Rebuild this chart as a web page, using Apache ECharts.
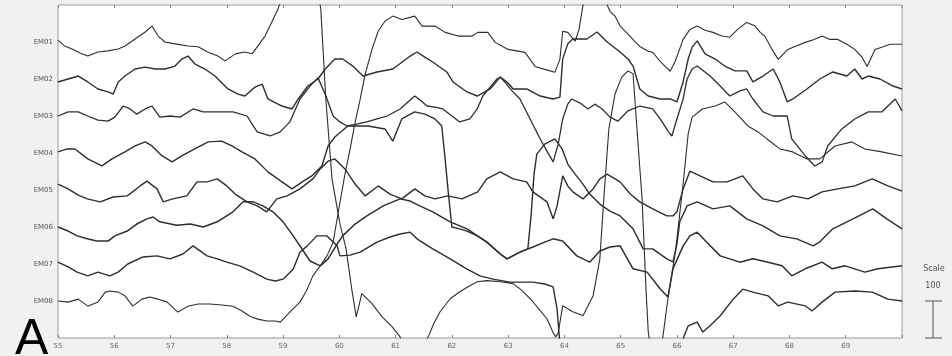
<!DOCTYPE html>
<html>
<head>
<meta charset="utf-8">
<script src="https://cdn.jsdelivr.net/npm/echarts@6/dist/echarts.min.js"></script>
<style>
html,body{margin:0;padding:0;background:#f0f1f3;}
#chart{width:952px;height:356px;}
</style>
</head>
<body>
<div id="chart"></div>
<script>
// channel names, top to bottom; spacing between channels = 100 (uV)
var channels = ['EM01', 'EM02', 'EM03', 'EM04', 'EM05', 'EM06', 'EM07', 'EM08'];
var timeTicks = [55, 56, 57, 58, 59, 60, 61, 62, 63, 64, 65, 66, 67, 68, 69];
var scaleValue = 100;

// [time (s), deflection (uV) from the channel baseline]
var em01 = [[55.00,5],[55.12,-11],[55.25,-19],[55.39,-30],[55.53,-38],[55.71,-27],[55.89,-24],[56.07,-19],[56.19,-11],[56.37,8],[56.55,27],[56.67,43],[56.78,16],[56.90,0],[57.08,-5],[57.31,-11],[57.49,-13],[57.66,-27],[57.84,-38],[57.97,-51],[58.15,-32],[58.32,-27],[58.45,-32],[58.55,-11],[58.68,16],[58.80,54],[58.91,89],[59.02,138],[59.12,224],[59.48,224],[59.62,138],[59.67,89],[59.76,-154],[59.87,-370],[60.01,-491],[60.12,-559],[60.22,-667],[60.30,-743],[60.40,-680],[60.58,-707],[60.76,-743],[60.94,-770],[61.08,-797],[61.18,-834],[61.43,-834],[61.58,-797],[61.68,-761],[61.79,-729],[61.97,-694],[62.14,-675],[62.32,-659],[62.45,-648],[62.62,-645],[62.86,-648],[63.09,-653],[63.25,-672],[63.44,-702],[63.57,-726],[63.69,-748],[63.80,-786],[63.85,-797],[63.89,-786],[63.97,-713],[64.15,-729],[64.33,-740],[64.51,-686],[64.63,-586],[64.70,-424],[64.79,-235],[64.90,-140],[65.02,-95],[65.13,-78],[65.22,-86],[65.29,-235],[65.38,-424],[65.45,-667],[65.49,-783],[65.54,-834],[65.70,-834],[65.75,-797],[65.84,-694],[65.98,-559],[66.11,-383],[66.20,-248],[66.27,-203],[66.45,-181],[66.68,-173],[66.85,-162],[67.03,-189],[67.26,-227],[67.44,-243],[67.60,-262],[67.83,-289],[68.06,-297],[68.31,-316],[68.54,-316],[68.81,-281],[69.11,-270],[69.34,-289],[69.64,-297],[70.00,-308]];

var em02 = [[55.00,-8],[55.18,0],[55.36,8],[55.53,-8],[55.71,-27],[55.89,-35],[55.98,-41],[56.07,-8],[56.19,8],[56.37,27],[56.55,32],[56.72,27],[56.90,27],[57.08,35],[57.20,54],[57.31,62],[57.43,41],[57.61,27],[57.79,8],[58.02,-27],[58.20,-41],[58.32,-46],[58.50,-22],[58.63,-14],[58.73,-54],[58.98,-73],[59.16,-81],[59.27,-54],[59.44,-19],[59.62,0],[59.75,27],[59.92,54],[60.06,54],[60.24,35],[60.42,8],[60.67,19],[60.95,27],[61.26,62],[61.38,73],[61.52,59],[61.66,46],[61.91,19],[62.02,-8],[62.27,-35],[62.45,-46],[62.68,-27],[62.86,5],[62.98,-8],[63.09,-27],[63.33,-27],[63.57,-46],[63.80,-54],[63.92,-49],[63.97,54],[64.06,95],[64.15,108],[64.40,108],[64.58,127],[64.76,100],[64.99,73],[65.13,54],[65.22,35],[65.34,-27],[65.49,-46],[65.70,-54],[65.88,-54],[66.00,-62],[66.11,-8],[66.20,54],[66.27,86],[66.36,103],[66.50,68],[66.68,54],[66.85,35],[67.03,22],[67.24,22],[67.35,-8],[67.53,8],[67.71,27],[67.83,-8],[67.96,-62],[68.06,-54],[68.31,-27],[68.54,0],[68.77,19],[69.02,8],[69.16,27],[69.29,0],[69.40,8],[69.61,0],[69.84,-19],[70.00,-27]];

var em03 = [[55.00,0],[55.18,11],[55.36,11],[55.53,0],[55.71,-11],[55.89,-14],[56.01,-3],[56.16,27],[56.28,19],[56.40,5],[56.55,19],[56.67,27],[56.81,-3],[56.99,0],[57.17,-3],[57.40,19],[57.58,11],[57.75,11],[57.93,11],[58.11,11],[58.36,0],[58.45,-22],[58.54,-43],[58.77,-54],[58.95,-43],[59.12,-16],[59.30,46],[59.48,81],[59.62,103],[59.75,59],[59.89,0],[60.01,-16],[60.14,-27],[60.31,-22],[60.49,-16],[60.67,-8],[60.85,0],[61.08,19],[61.22,38],[61.34,54],[61.45,41],[61.56,27],[61.70,24],[61.84,19],[62.00,0],[62.14,-16],[62.32,-8],[62.45,19],[62.55,54],[62.68,78],[62.80,100],[62.86,105],[62.94,92],[63.07,68],[63.21,46],[63.39,-8],[63.57,-62],[63.69,-95],[63.80,-124],[63.89,-76],[63.97,-8],[64.06,32],[64.13,46],[64.28,35],[64.42,19],[64.54,32],[64.67,19],[64.81,-3],[64.95,-14],[65.13,14],[65.34,27],[65.57,19],[65.73,-14],[65.84,-41],[65.91,-54],[66.00,-8],[66.11,46],[66.18,100],[66.27,127],[66.36,135],[66.59,108],[66.82,73],[66.94,54],[67.12,68],[67.24,73],[67.35,46],[67.53,11],[67.71,0],[67.96,0],[68.04,-62],[68.28,-108],[68.45,-135],[68.58,-124],[68.68,-81],[68.93,-35],[69.16,-8],[69.40,11],[69.64,11],[69.88,46],[70.00,14]];

var em04 = [[55.00,3],[55.16,11],[55.30,11],[55.53,-16],[55.78,-35],[55.96,-16],[56.19,3],[56.37,19],[56.55,30],[56.67,19],[56.85,-8],[57.03,-24],[57.20,-8],[57.43,11],[57.67,30],[57.91,32],[58.09,19],[58.27,3],[58.50,-16],[58.73,-51],[58.98,-78],[59.16,-97],[59.34,-78],[59.51,-62],[59.69,-35],[59.80,19],[59.92,43],[60.15,73],[60.28,73],[60.51,73],[60.81,65],[60.95,32],[61.11,92],[61.34,111],[61.52,105],[61.70,92],[61.82,73],[61.88,-16],[61.93,-97],[62.00,-200],[62.14,-205],[62.27,-211],[62.45,-224],[62.62,-240],[62.86,-273],[62.98,-286],[63.12,-275],[63.25,-265],[63.35,-259],[63.41,-165],[63.46,-57],[63.51,-3],[63.65,24],[63.83,38],[63.96,11],[64.06,-30],[64.19,-57],[64.33,-84],[64.45,-111],[64.63,-138],[64.81,-157],[64.99,-170],[65.22,-205],[65.40,-259],[65.57,-259],[65.82,-286],[65.93,-294],[66.00,-246],[66.05,-186],[66.18,-143],[66.36,-132],[66.64,-151],[66.94,-143],[67.24,-178],[67.53,-197],[67.83,-224],[68.13,-232],[68.42,-251],[68.54,-240],[68.77,-205],[69.13,-178],[69.48,-151],[69.73,-178],[70.00,-205]];

var em05 = [[55.00,16],[55.18,3],[55.36,-14],[55.52,-24],[55.75,-32],[55.98,-19],[56.23,-16],[56.46,11],[56.58,24],[56.76,3],[56.87,-32],[57.04,-24],[57.29,-16],[57.47,22],[57.65,22],[57.83,30],[58.00,11],[58.15,-11],[58.36,-32],[58.54,-43],[58.71,-59],[58.89,-24],[59.07,-16],[59.30,3],[59.53,30],[59.66,57],[59.80,78],[59.92,84],[60.10,57],[60.28,16],[60.46,-16],[60.69,11],[60.90,-11],[61.11,-24],[61.34,3],[61.52,-16],[61.70,-24],[61.93,-16],[62.18,-24],[62.46,-5],[62.62,30],[62.86,49],[63.09,30],[63.33,22],[63.44,-5],[63.69,-32],[63.80,-78],[63.87,-43],[63.97,38],[64.06,11],[64.15,-5],[64.33,-24],[64.51,3],[64.63,30],[64.76,43],[64.99,22],[65.17,-11],[65.34,-32],[65.57,-51],[65.82,-70],[65.93,-70],[66.00,-59],[66.11,3],[66.23,51],[66.41,38],[66.64,22],[66.89,22],[67.17,38],[67.35,3],[67.53,-24],[67.78,-32],[68.06,-16],[68.33,-24],[68.58,-5],[68.86,3],[69.16,11],[69.47,30],[69.75,11],[70.00,-3]];

var em06 = [[55.00,0],[55.18,-11],[55.34,-24],[55.52,-32],[55.69,-38],[55.89,-38],[56.01,-24],[56.23,-11],[56.40,8],[56.58,22],[56.69,27],[56.81,14],[57.11,5],[57.35,8],[57.58,0],[57.83,14],[58.11,41],[58.29,68],[58.47,68],[58.64,57],[58.82,41],[59.00,14],[59.18,-24],[59.30,-51],[59.48,-92],[59.66,-105],[59.80,-86],[59.96,-46],[60.06,-24],[60.28,8],[60.49,30],[60.78,57],[61.08,76],[61.26,70],[61.43,57],[61.66,41],[61.97,14],[62.27,-5],[62.62,-41],[62.86,-73],[62.98,-86],[63.21,-68],[63.44,-54],[63.65,-41],[63.80,-32],[63.97,-38],[64.22,-78],[64.45,-95],[64.63,-65],[64.81,-54],[64.99,-51],[65.22,-113],[65.47,-122],[65.70,-167],[65.84,-189],[65.93,-113],[66.11,-51],[66.23,-24],[66.36,-14],[66.53,-41],[66.77,-78],[67.12,-95],[67.35,-86],[67.62,-95],[67.87,-105],[68.04,-132],[68.28,-113],[68.58,-95],[68.76,-113],[68.99,-105],[69.34,-122],[69.57,-113],[70.00,-105]];

var em07 = [[55.00,5],[55.18,-8],[55.34,-22],[55.53,-32],[55.71,-22],[55.92,-32],[56.07,-22],[56.24,0],[56.51,19],[56.76,22],[56.99,14],[57.22,27],[57.40,49],[57.65,22],[57.83,14],[58.00,5],[58.23,-5],[58.47,-22],[58.71,-41],[58.86,-46],[59.00,-41],[59.18,-14],[59.30,32],[59.43,49],[59.60,76],[59.78,76],[59.96,49],[60.01,22],[60.19,24],[60.37,32],[60.67,59],[60.90,73],[61.08,81],[61.26,86],[61.38,68],[61.66,41],[61.97,14],[62.27,-14],[62.50,-32],[62.73,-41],[63.03,-49],[63.25,-49],[63.44,-49],[63.65,-54],[63.80,-62],[63.87,-122],[63.92,-216],[64.10,-257],[66.05,-257],[66.12,-197],[66.20,-167],[66.36,-157],[66.46,-184],[66.59,-167],[66.77,-140],[67.00,-95],[67.17,-68],[67.35,-76],[67.62,-86],[67.80,-113],[67.97,-103],[68.28,-113],[68.40,-127],[68.58,-103],[68.81,-76],[69.16,-73],[69.47,-76],[69.75,-95],[70.00,-100]];

var em08 = [[55.00,0],[55.18,-3],[55.36,5],[55.53,-14],[55.71,-3],[55.84,24],[55.92,27],[56.07,24],[56.19,14],[56.33,-14],[56.49,5],[56.63,11],[56.78,5],[56.94,-3],[57.13,-30],[57.31,-14],[57.49,-8],[57.70,-8],[57.91,-11],[58.11,-14],[58.27,-27],[58.41,-41],[58.55,-49],[58.71,-54],[58.86,-54],[58.95,-57],[59.12,-30],[59.30,-3],[59.43,32],[59.53,68],[59.66,95],[59.78,122],[59.89,159],[59.99,248],[60.10,343],[60.19,410],[60.28,483],[60.37,545],[60.46,613],[60.58,680],[60.69,729],[60.81,756],[60.95,770],[61.11,761],[61.34,770],[61.47,743],[61.70,743],[61.88,726],[62.11,716],[62.36,716],[62.46,726],[62.64,726],[62.77,699],[63.00,680],[63.30,672],[63.48,634],[63.65,626],[63.83,618],[63.92,653],[63.97,729],[64.06,726],[64.19,702],[64.26,734],[64.33,799],[64.38,896],[64.69,896],[64.74,807],[64.81,783],[64.90,770],[64.99,743],[65.13,721],[65.25,702],[65.34,688],[65.49,675],[65.57,672],[65.70,648],[65.79,634],[65.88,621],[65.97,648],[66.11,707],[66.23,734],[66.36,743],[66.50,732],[66.64,726],[66.80,716],[66.94,713],[67.08,734],[67.24,753],[67.39,743],[67.48,726],[67.56,716],[67.69,680],[67.80,653],[67.97,680],[68.10,688],[68.28,699],[68.44,707],[68.58,716],[68.72,707],[68.86,707],[69.02,694],[69.16,680],[69.29,659],[69.38,634],[69.52,680],[69.64,686],[69.79,694],[70.00,694]];

var traces = [em01, em02, em03, em04, em05, em06, em07, em08];
// the noisier middle channels read heavier in the original
var traceWidths = [1.1, 1.4, 1.3, 1.4, 1.4, 1.5, 1.4, 1.1];

var myChart = echarts.init(document.getElementById('chart'));

var series = traces.map(function (tr, i) {
    var base = (channels.length - i) * scaleValue;
    return {
        name: channels[i],
        type: 'line',
        showSymbol: false,
        clip: true,
        silent: true,
        data: tr.map(function (p) { return [p[0], base + p[1]]; }),
        lineStyle: { color: '#2e2e2e', width: traceWidths[i] }
    };
});

var option = {
    animation: false,
    backgroundColor: '#f0f1f3',
    grid: {
        left: 58, right: 50, top: 5, bottom: 18,
        show: true,
        backgroundColor: '#ffffff',
        borderColor: '#9a9a9a',
        borderWidth: 1
    },
    xAxis: [{
        type: 'value',
        min: 55,
        max: 70,
        interval: 1,
        axisLine: { show: false },
        axisTick: { show: true, inside: true, length: 3, lineStyle: { color: '#888' } },
        splitLine: { show: false },
        axisLabel: {
            color: '#666',
            fontSize: 7,
            fontFamily: 'DejaVu Sans',
            margin: 5,
            formatter: function (v) { return timeTicks.indexOf(v) >= 0 ? String(v) : ''; }
        }
    }, {
        type: 'value',
        position: 'top',
        min: 55,
        max: 70,
        interval: 1,
        axisLine: { show: false },
        axisTick: { show: true, inside: true, length: 3, lineStyle: { color: '#888' } },
        axisLabel: { show: false },
        splitLine: { show: false }
    }],
    yAxis: {
        type: 'value',
        min: 0,
        max: 900,
        interval: 100,
        axisLine: { show: false },
        axisTick: { show: false },
        splitLine: { show: false },
        axisLabel: {
            color: '#555',
            fontSize: 7,
            fontFamily: 'DejaVu Sans',
            margin: 5,
            formatter: function (v) {
                var idx = channels.length - v / scaleValue;
                return (idx >= 0 && idx < channels.length) ? channels[idx] : '';
            }
        }
    },
    series: series
};
myChart.setOption(option);

// scale bar drawn through the y scale
var y0 = myChart.convertToPixel({ yAxisIndex: 0 }, 0);
var y1 = myChart.convertToPixel({ yAxisIndex: 0 }, scaleValue);
var xr = myChart.convertToPixel({ xAxisIndex: 0 }, 70) + 31;
myChart.setOption({
    graphic: [
        { type: 'line', shape: { x1: xr, y1: y1, x2: xr, y2: y0 }, style: { stroke: '#555', lineWidth: 1 } },
        { type: 'line', shape: { x1: xr - 8, y1: y1, x2: xr + 9, y2: y1 }, style: { stroke: '#555', lineWidth: 1 } },
        { type: 'line', shape: { x1: xr - 8, y1: y0, x2: xr + 9, y2: y0 }, style: { stroke: '#555', lineWidth: 1 } },
        { type: 'text', x: xr, y: y1 - 15, style: { text: String(scaleValue), fill: '#555', font: '8px "DejaVu Sans"', align: 'center', verticalAlign: 'middle' } },
        { type: 'text', x: xr + 1, y: y1 - 32, style: { text: 'Scale', fill: '#555', font: '8px "DejaVu Sans"', align: 'center', verticalAlign: 'middle' } },
        { type: 'text', x: 15, y: 340, style: { text: 'A', fill: '#000', font: '50px "Liberation Sans"', align: 'left', verticalAlign: 'middle' } }
    ]
});
</script>
</body>
</html>
